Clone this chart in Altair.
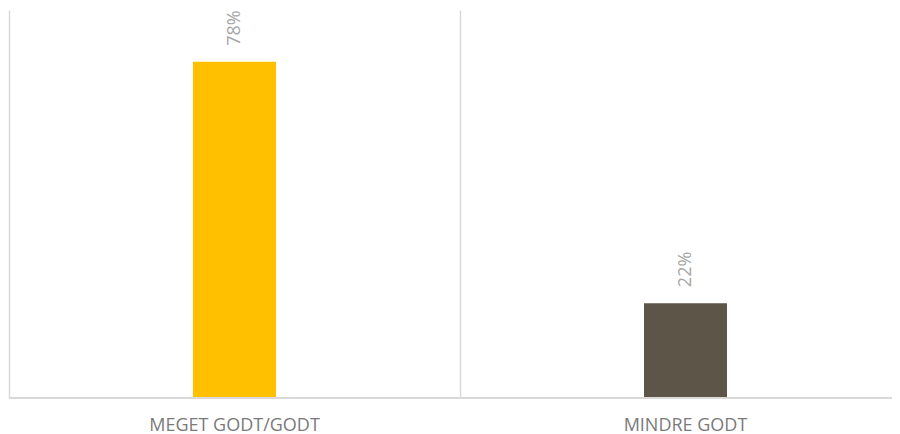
import altair as alt
import pandas as pd

categories = ["MEGET GODT/GODT", "MINDRE GODT"]
values = [0.78, 0.22]
colors = ["#FFC000", "#5E5549"]

df = pd.DataFrame({"cat": categories, "val": values, "color": colors})

x = alt.X("cat:N", sort=categories, title=None,
          scale=alt.Scale(paddingInner=0, paddingOuter=0),
          axis=alt.Axis(labelAngle=0, grid=True, bandPosition=0, gridColor="#d9d9d9",
                        gridWidth=1.5, domain=False, ticks=False,
                        labelFont="Open Sans", labelFontSize=18, labelColor="#7a7a7a",
                        labelPadding=18))
y = alt.Y("val:Q", scale=alt.Scale(domain=[0, 0.9]), axis=None)

baseline = alt.Chart(df).mark_rule(color="#d9d9d9", strokeWidth=2).encode(
    y=alt.datum(0)
)
bars = alt.Chart(df).mark_bar(size=83).encode(
    x=x, y=y, color=alt.Color("color:N", scale=None)
)
labels = alt.Chart(df).mark_text(
    angle=270, align="left", baseline="middle", dx=16,
    font="Open Sans", fontSize=18, color="#a6a6a6"
).encode(
    x=alt.X("cat:N", sort=categories), y="val:Q",
    text=alt.Text("val:Q", format=".0%")
)

chart = (bars + baseline + labels).properties(
    width=902, height=388,
    autosize=alt.AutoSizeParams(type="none"),
    padding={"left": 1, "top": 2, "right": -19, "bottom": 36}
).configure_view(stroke=None)

chart.save("out.html", embed_options={"renderer": "svg", "actions": False})
